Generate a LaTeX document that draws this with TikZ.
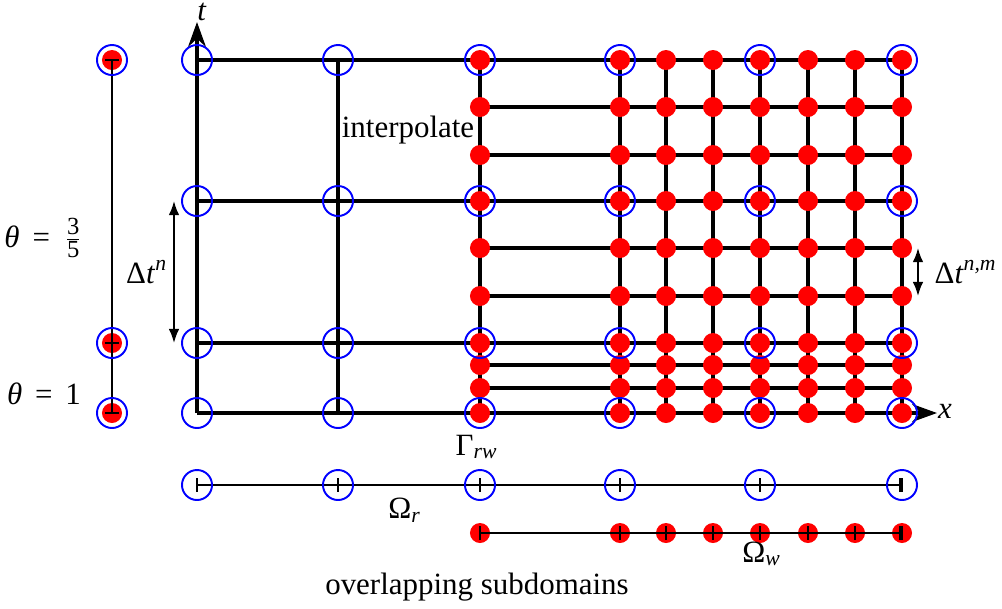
\documentclass[tikz,border=0pt]{standalone}
\usepackage{amsmath}
\usepackage{fontspec}
\setmainfont{Liberation Serif}
\usetikzlibrary{arrows.meta}

\tikzset{
    gridline/.style={line width=1.1pt},
    thinline/.style={line width=0.5pt},
    tick/.style={line width=0.75pt},
    coarse/.style={draw=blue, line width=0.55pt},
    fine/.style={fill=red},
}
\newcommand{\fracdigit}[1]{\mbox{\fontsize{7}{7}\selectfont #1}}

\begin{document}
\begin{tikzpicture}[x=0.01cm, y=-0.01cm, font=\fontsize{8.8}{10.5}\selectfont]
    \useasboundingbox (0,0) rectangle (1002,608);
    % grid
    \foreach \y in {60,201,343}{
        \draw[gridline] (197,\y) -- (902,\y);
    }
    \foreach \y in {107,155,248,296,365,388}{
        \draw[gridline] (480,\y) -- (902,\y);
    }
    \foreach \x in {338,480,620,666,713,760,808,855,902}{
        \draw[gridline] (\x,60) -- (\x,413);
    }
    % axes
    \coordinate (O) at (197,413);
    \coordinate (tend) at (197,22);
    \coordinate (xend) at (937,413);
    \draw[gridline,-{Stealth[length=7pt,width=5pt]}] (O) -- (tend);
    \draw[gridline,-{Stealth[length=7pt,width=5pt]}] (O) -- (xend);
    \node (tlab) at (202,12) {\textit{t}};
    \node (xlab) at (945,411) {\textit{x}};
    % fine points
    \foreach \x in {480,620,666,713,760,808,855,902}{
        \foreach \y in {60,107,155,201,248,296,343,365,388,413}{
            \fill[fine] (\x,\y) circle[radius=0.1cm];
        }
    }
    % coarse points
    \foreach \x in {197,338,480,620,760,902}{
        \foreach \y in {60,201,343,413}{
            \draw[coarse] (\x,\y) circle[radius=0.15cm];
        }
    }
    % theta column
    \foreach \y in {60,343,413}{
        \fill[fine] (112,\y) circle[radius=0.1cm];
    }
    \draw[thinline] (112,60) -- (112,413);
    \foreach \y in {60,343,413}{
        \draw[tick] (105,\y) -- (119,\y);
        \draw[coarse] (112,\y) circle[radius=0.15cm];
    }
    \node (th35) at (44,238) {\textit{θ} \,=\, $\frac{\fracdigit{3}}{\fracdigit{5}}$};
    \node (th1) at (44,394) {\textit{θ} \,=\, 1};
    % time steps
    \coordinate (dna) at (174,201);
    \coordinate (dnb) at (174,343);
    \draw[thinline,{Latex[length=4pt,width=3pt]}-{Latex[length=4pt,width=3pt]}] (dna) -- (dnb);
    \node (dtn) at (147,272) {Δ\textit{t}$^{\textit{n}}$};
    \coordinate (dma) at (918,248);
    \coordinate (dmb) at (918,296);
    \draw[thinline,{Latex[length=4pt,width=3pt]}-{Latex[length=4pt,width=3pt]}] (dma) -- (dmb);
    \node (dtnm) at (966,272) {Δ\textit{t}$^{\textit{n,m}}$};
    \node (interp) at (408,130) {interpolate};
    \node (grw) at (477,447) {Γ$_{\textit{rw}}$};
    % subdomains
    \draw[thinline] (197,485) -- (902,485);
    \foreach \x in {197,338,480,620,760,902}{
        \draw[tick] (\x,478) -- (\x,492);
        \draw[coarse] (\x,485) circle[radius=0.15cm];
    }
    \draw[tick] (900,478) -- (900,492);
    \foreach \x in {480,620,666,713,760,808,855,902}{
        \fill[fine] (\x,533) circle[radius=0.1cm];
    }
    \draw[thinline] (480,533) -- (902,533);
    \foreach \x in {480,620,666,713,760,808,855,902}{
        \draw[tick] (\x,526) -- (\x,540);
    }
    \draw[tick] (900,526) -- (900,540);
    \node (omr) at (405,510) {Ω$_{\textit{r}}$};
    \node (omw) at (762,554) {Ω$_{\textit{w}}$};
    \node (overlap) at (477,587) {overlapping subdomains};
\end{tikzpicture}
\end{document}
